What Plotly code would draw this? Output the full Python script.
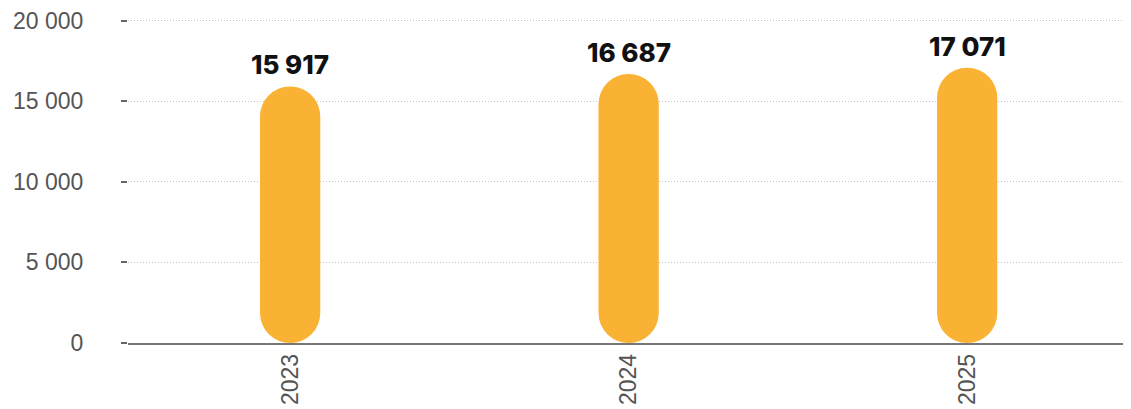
import plotly.graph_objects as go

years = ["2023", "2024", "2025"]
values = [15917, 16687, 17071]
label_texts = ["15 917", "16 687", "17 071"]
bases = [0, 0, 0]

BAR_COLOR = "#F9B234"

fig = go.Figure()
fig.add_trace(go.Bar(
    x=years, y=values, base=bases, width=0.178,
    marker=dict(color=BAR_COLOR, cornerradius="50%", line=dict(width=0)),
    hoverinfo="skip", showlegend=False,
))

for i, (v, t) in enumerate(zip(values, label_texts)):
    fig.add_annotation(
        x=i, y=v, xref="x", yref="y", text=t, showarrow=False,
        yanchor="bottom", yshift=4,
        font=dict(family="Inter", size=26, color="#111111", weight=800),
    )

# page body has an 8px margin, so the figure is sized/offset to compensate
fig.update_layout(
    width=1123, height=401,
    margin=dict(l=120, r=0, t=7, b=66),
    paper_bgcolor="white", plot_bgcolor="white",
    separators=", ",
    showlegend=False,
    xaxis=dict(
        type="category",
        range=[-0.479, 2.484],
        tickangle=-90,
        tickfont=dict(family="Liberation Sans", size=23, color="#555555"),
        showgrid=False,
        showline=True, linecolor="#777777", linewidth=1.5,
        ticks="",
        zeroline=False,
    ),
    yaxis=dict(
        range=[0, 20100],
        tickvals=[0, 5000, 10000, 15000, 20000],
        tickformat=",d",
        tickfont=dict(family="Liberation Sans", size=23, color="#555555"),
        ticklabeloverflow="allow",
        showgrid=True, gridcolor="#c4c4c4", griddash="1px,2px", gridwidth=1,
        ticks="outside", ticklen=6, tickcolor="#666666", tickwidth=1.5,
        ticklabelstandoff=33,
        zeroline=False,
        showline=False,
    ),
)

fig.write_html("out.html")
